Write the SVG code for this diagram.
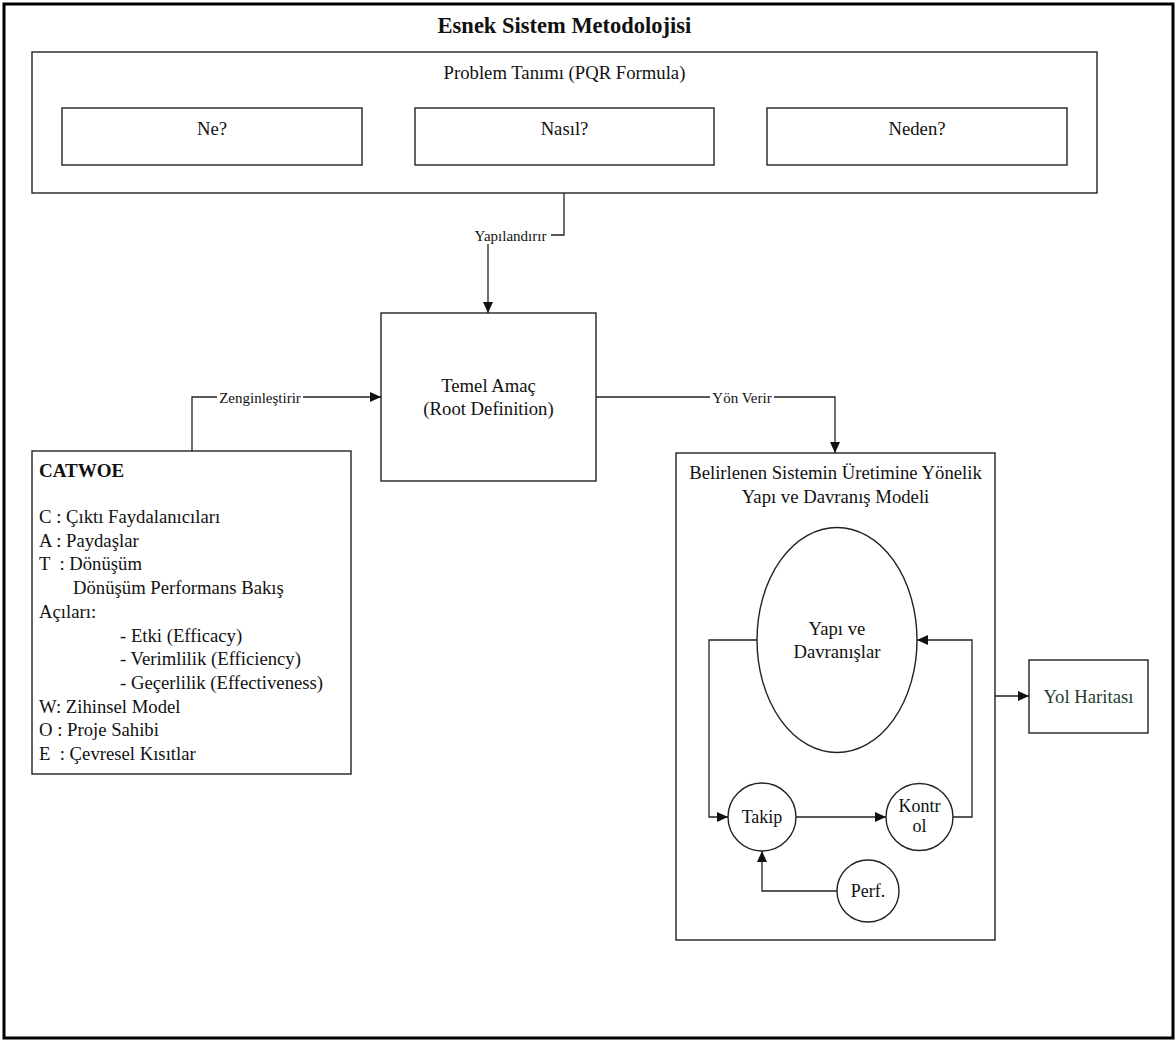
<svg xmlns="http://www.w3.org/2000/svg" width="1176" height="1041" viewBox="0 0 1176 1041">
  <style>
    text { font-family: "Liberation Serif", "Times New Roman", serif; fill: #111; }
    .t { font-size: 18.7px; }
    .c { text-anchor: middle; }
    .lbl { font-size: 15px; text-anchor: middle; }
    .box { fill: #fff; stroke: #222; stroke-width: 1.4; }
    .wire { fill: none; stroke: #222; stroke-width: 1.3; }
    .pre { white-space: pre; }
  </style>
  <defs>
    <marker id="arrow" markerUnits="userSpaceOnUse" markerWidth="12" markerHeight="10" refX="11" refY="5" orient="auto">
      <path d="M0,0 L11,5 L0,10 Z" fill="#111"/>
    </marker>
  </defs>

  <!-- page frame and title -->
  <rect x="4" y="4" width="1169" height="1034" fill="#fff" stroke="#000" stroke-width="3"/>
  <text x="564.5" y="33" class="c" style="font-size:22.5px;font-weight:bold">Esnek Sistem Metodolojisi</text>

  <!-- problem definition -->
  <g id="problem">
    <rect class="box" x="32" y="52" width="1065" height="141"/>
    <text class="t c" x="564.5" y="79">Problem Tanımı (PQR Formula)</text>
  </g>
  <g id="ne">
    <rect class="box" x="62" y="108" width="300" height="57"/>
    <text class="t c" x="212" y="135">Ne?</text>
  </g>
  <g id="nasil">
    <rect class="box" x="415" y="108" width="299" height="57"/>
    <text class="t c" x="564.5" y="135">Nasıl?</text>
  </g>
  <g id="neden">
    <rect class="box" x="767" y="108" width="300" height="57"/>
    <text class="t c" x="917" y="135">Neden?</text>
  </g>

  <!-- root definition -->
  <g id="temel-amac">
    <rect class="box" x="381" y="313" width="215" height="168"/>
    <text class="t c" x="488.5" y="392">Temel Amaç</text>
    <text class="t c" x="488.5" y="415">(Root Definition)</text>
  </g>

  <!-- CATWOE -->
  <g id="catwoe">
    <rect class="box" x="32" y="451" width="319" height="323"/>
    <text x="39" y="477" style="font-size:19px;font-weight:bold">CATWOE</text>
    <text class="t pre" x="39" y="523">C : Çıktı Faydalanıcıları</text>
    <text class="t pre" x="39" y="546.7">A : Paydaşlar</text>
    <text class="t pre" x="39" y="570.4">T  : Dönüşüm</text>
    <text class="t pre" x="73" y="594.1">Dönüşüm Performans Bakış</text>
    <text class="t pre" x="39" y="617.8">Açıları:</text>
    <text class="t pre" x="120" y="641.5">- Etki (Efficacy)</text>
    <text class="t pre" x="120" y="665.2">- Verimlilik (Efficiency)</text>
    <text class="t pre" x="120" y="688.9">- Geçerlilik (Effectiveness)</text>
    <text class="t pre" x="39" y="712.6">W: Zihinsel Model</text>
    <text class="t pre" x="39" y="736.3">O : Proje Sahibi</text>
    <text class="t pre" x="39" y="760">E  : Çevresel Kısıtlar</text>
  </g>

  <!-- structure and behaviour model -->
  <g id="model">
    <rect class="box" x="676" y="453" width="319" height="487"/>
    <text class="t c" x="835.5" y="479">Belirlenen Sistemin Üretimine Yönelik</text>
    <text class="t c" x="835.5" y="503">Yapı ve Davranış Modeli</text>
  </g>
  <g id="yapi-davranis">
    <ellipse class="box" cx="837" cy="640" rx="80" ry="112.5"/>
    <text class="t c" x="837" y="635">Yapı ve</text>
    <text class="t c" x="837" y="658">Davranışlar</text>
  </g>
  <g id="takip">
    <circle class="box" cx="762" cy="817" r="34"/>
    <text class="c" x="762" y="823" style="font-size:18px">Takip</text>
  </g>
  <g id="kontrol">
    <circle class="box" cx="919.5" cy="817" r="33.5"/>
    <text class="c" x="919.5" y="812" style="font-size:18px">Kontr</text>
    <text class="c" x="919.5" y="832" style="font-size:18px">ol</text>
  </g>
  <g id="perf">
    <circle class="box" cx="868" cy="891" r="31"/>
    <text class="c" x="868" y="897" style="font-size:18px">Perf.</text>
  </g>

  <!-- road map -->
  <g id="yol-haritasi">
    <rect class="box" x="1029" y="660" width="119" height="73"/>
    <text class="t c" x="1088.5" y="703" style="fill:#1f3d2c">Yol Haritası</text>
  </g>

  <!-- connectors -->
  <g id="connectors">
    <path class="wire" d="M564,193 V235 H488 V313" marker-end="url(#arrow)"/>
    <path class="wire" d="M192,451 V397 H381" marker-end="url(#arrow)"/>
    <path class="wire" d="M596,397 H835 V453" marker-end="url(#arrow)"/>
    <path class="wire" d="M995,696 H1029" marker-end="url(#arrow)"/>
    <path class="wire" d="M757,640 H709 V817 H728" marker-end="url(#arrow)"/>
    <path class="wire" d="M796,817 H886" marker-end="url(#arrow)"/>
    <path class="wire" d="M953,817 H972 V640 H917" marker-end="url(#arrow)"/>
    <path class="wire" d="M837,891 H762 V851" marker-end="url(#arrow)"/>

    <rect x="471" y="227" width="80" height="17" fill="#fff"/>
    <text class="lbl" x="510.5" y="240.5">Yapılandırır</text>
    <rect x="217" y="389" width="86" height="17" fill="#fff"/>
    <text class="lbl" x="260" y="402.5">Zenginleştirir</text>
    <rect x="710" y="389" width="64" height="17" fill="#fff"/>
    <text class="lbl" x="742" y="402.5">Yön Verir</text>
  </g>
</svg>
